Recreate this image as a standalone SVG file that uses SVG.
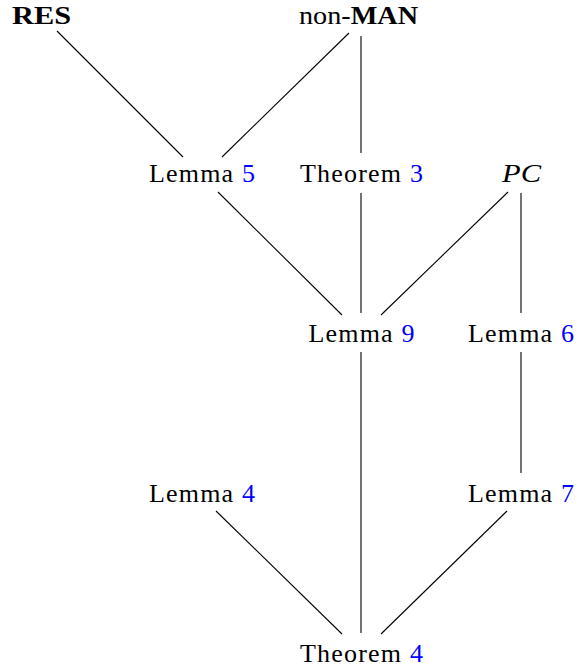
<svg xmlns="http://www.w3.org/2000/svg" width="577" height="671" viewBox="0 0 577 671">
<style>
text{font-family:"Liberation Serif","DejaVu Serif",serif;font-size:26px;fill:#000;text-anchor:middle}
.n{fill:#0000ff}
.b{font-weight:bold}
.i{font-style:italic}
#edges line{stroke:#000;stroke-width:1.1}
</style>
<rect width="577" height="671" fill="#fff"/>
<g id="edges">
<line x1="57" y1="31" x2="183" y2="157"/>
<line x1="349" y1="33" x2="222" y2="157"/>
<line x1="361" y1="36" x2="361" y2="153"/>
<line x1="218" y1="192" x2="342" y2="315"/>
<line x1="361" y1="193" x2="361" y2="313"/>
<line x1="508" y1="192" x2="381" y2="315"/>
<line x1="521" y1="193" x2="521" y2="313"/>
<line x1="361" y1="352" x2="361" y2="633"/>
<line x1="521" y1="352" x2="521" y2="473"/>
<line x1="216" y1="511" x2="342" y2="634"/>
<line x1="507" y1="511" x2="381" y2="634"/>
</g>
<g id="res"><text x="41.5" y="23.5" class="b" textLength="59" lengthAdjust="spacingAndGlyphs">RES</text></g>
<g id="nonman"><text x="358.5" y="23.5" textLength="119" lengthAdjust="spacingAndGlyphs">non-<tspan class="b">MAN</tspan></text></g>
<g id="lemma5"><text x="202" y="182" textLength="106" lengthAdjust="spacing">Lemma <tspan class="n">5</tspan></text></g>
<g id="theorem3"><text x="361.5" y="182" textLength="123" lengthAdjust="spacing">Theorem <tspan class="n">3</tspan></text></g>
<g id="pc"><text x="521.5" y="182" class="i" textLength="39" lengthAdjust="spacingAndGlyphs">PC</text></g>
<g id="lemma9"><text x="361.5" y="342" textLength="106" lengthAdjust="spacing">Lemma <tspan class="n">9</tspan></text></g>
<g id="lemma6"><text x="521" y="342" textLength="106" lengthAdjust="spacing">Lemma <tspan class="n">6</tspan></text></g>
<g id="lemma4"><text x="202" y="502" textLength="106" lengthAdjust="spacing">Lemma <tspan class="n">4</tspan></text></g>
<g id="lemma7"><text x="521" y="502" textLength="106" lengthAdjust="spacing">Lemma <tspan class="n">7</tspan></text></g>
<g id="theorem4"><text x="361.5" y="662" textLength="123" lengthAdjust="spacing">Theorem <tspan class="n">4</tspan></text></g>
</svg>
